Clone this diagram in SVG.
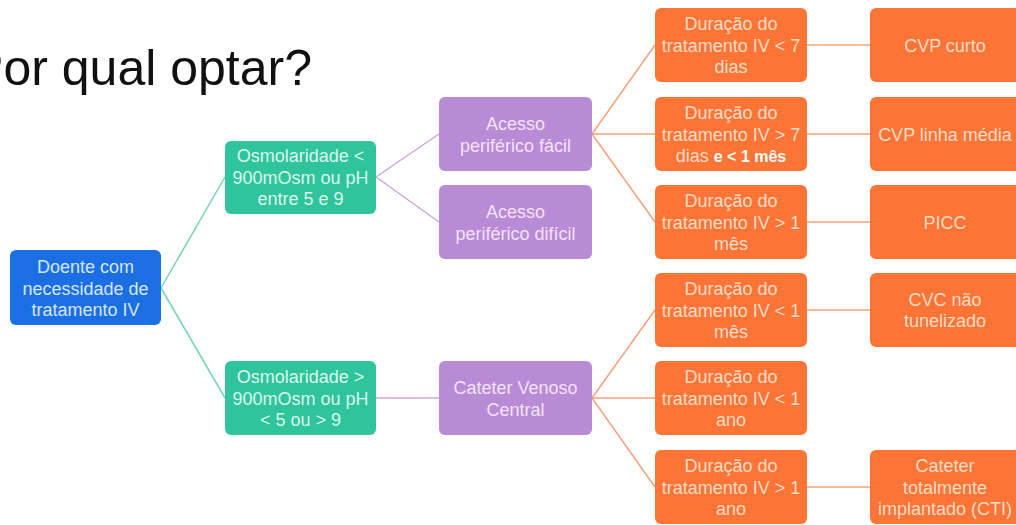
<svg xmlns="http://www.w3.org/2000/svg" width="1016" height="525" viewBox="0 0 1016 525">
<style>
.t{font-family:"Liberation Sans",Arial,sans-serif;font-size:18px;text-anchor:middle}
.blue rect{fill:#1b6fe3}
.blue text{fill:#d6e6ff}
.green rect{fill:#2fc49c}
.green text{fill:#dcf7ee}
.purple rect{fill:#b98ad5}
.purple text{fill:#f3e3fa}
.orange rect{fill:#fc7436}
.orange text{fill:#ffdcc6}
.hi{fill:#ffffff}
.cg{stroke:#74d4b7;stroke-width:1.5;fill:none}
.cp{stroke:#cba6dd;stroke-width:1.5;fill:none}
.co{stroke:#f7a27b;stroke-width:1.5;fill:none}
</style>
<rect width="1016" height="525" fill="#ffffff"/>
<text x="312" y="85" font-family="Liberation Sans,Arial,sans-serif" font-size="50" text-anchor="end" fill="#111111">Por qual optar?</text>

<g id="connectors">
<path class="cg" d="M161 288 L225 177 M161 288 L225 398"/>
<path class="cp" d="M376 177 L439 134 M376 177 L439 222 M376 398 L439 398"/>
<path class="co" d="M592 134 L655 45 M592 134 L655 134 M592 134 L655 222"/>
<path class="co" d="M592 398 L655 310 M592 398 L655 398 M592 398 L655 487"/>
<path class="co" d="M807 45 H870 M807 134 H870 M807 222 H870 M807 310 H870 M807 487 H870"/>
</g>

<g id="n-doente" class="blue">
<rect x="10" y="250" width="151" height="75" rx="6"/>
<text class="t" x="85.5" y="273">Doente com</text>
<text class="t" x="85.5" y="294.5">necessidade de</text>
<text class="t" x="85.5" y="316">tratamento IV</text>
</g>

<g id="n-osm-low" class="green">
<rect x="225" y="141" width="151" height="73" rx="6"/>
<text class="t" x="300.5" y="162">Osmolaridade &lt;</text>
<text class="t" x="300.5" y="183.5">900mOsm ou pH</text>
<text class="t" x="300.5" y="205">entre 5 e 9</text>
</g>

<g id="n-osm-high" class="green">
<rect x="225" y="361" width="151" height="74" rx="6"/>
<text class="t" x="300.5" y="383">Osmolaridade &gt;</text>
<text class="t" x="300.5" y="404.5">900mOsm ou pH</text>
<text class="t" x="300.5" y="426">&lt; 5 ou &gt; 9</text>
</g>

<g id="n-facil" class="purple">
<rect x="439" y="97" width="153" height="74" rx="6"/>
<text class="t" x="515.5" y="130">Acesso</text>
<text class="t" x="515.5" y="151.5">periférico fácil</text>
</g>

<g id="n-dificil" class="purple">
<rect x="439" y="185" width="153" height="74" rx="6"/>
<text class="t" x="515.5" y="218">Acesso</text>
<text class="t" x="515.5" y="239.5">periférico difícil</text>
</g>

<g id="n-cvc" class="purple">
<rect x="439" y="361" width="153" height="74" rx="6"/>
<text class="t" x="515.5" y="394">Cateter Venoso</text>
<text class="t" x="515.5" y="415.5">Central</text>
</g>

<g id="n-d1" class="orange">
<rect x="655" y="8" width="152" height="74" rx="6"/>
<text class="t" x="731" y="30">Duração do</text>
<text class="t" x="731" y="51.5">tratamento IV &lt; 7</text>
<text class="t" x="731" y="73">dias</text>
</g>

<g id="n-d2" class="orange">
<rect x="655" y="97" width="152" height="74" rx="6"/>
<text class="t" x="731" y="119">Duração do</text>
<text class="t" x="731" y="140.5">tratamento IV &gt; 7</text>
<text class="t" x="731" y="162">dias <tspan class="hi" font-weight="bold" font-size="16">e &lt; 1 mês</tspan></text>
</g>

<g id="n-d3" class="orange">
<rect x="655" y="185" width="152" height="74" rx="6"/>
<text class="t hi" x="731" y="207">Duração do</text>
<text class="t hi" x="731" y="228.5">tratamento IV &gt; 1</text>
<text class="t hi" x="731" y="250">mês</text>
</g>

<g id="n-d4" class="orange">
<rect x="655" y="273" width="152" height="74" rx="6"/>
<text class="t" x="731" y="295">Duração do</text>
<text class="t" x="731" y="316.5">tratamento IV &lt; 1</text>
<text class="t" x="731" y="338">mês</text>
</g>

<g id="n-d5" class="orange">
<rect x="655" y="361" width="152" height="74" rx="6"/>
<text class="t" x="731" y="383">Duração do</text>
<text class="t" x="731" y="404.5">tratamento IV &lt; 1</text>
<text class="t" x="731" y="426">ano</text>
</g>

<g id="n-d6" class="orange">
<rect x="655" y="450" width="152" height="74" rx="6"/>
<text class="t" x="731" y="472">Duração do</text>
<text class="t" x="731" y="493.5">tratamento IV &gt; 1</text>
<text class="t" x="731" y="515">ano</text>
</g>

<g id="n-cvp-curto" class="orange">
<rect x="870" y="8" width="152" height="74" rx="6"/>
<text class="t" x="945" y="51.5">CVP curto</text>
</g>

<g id="n-cvp-media" class="orange">
<rect x="870" y="97" width="152" height="74" rx="6"/>
<text class="t" x="945" y="140.5">CVP linha média</text>
</g>

<g id="n-picc" class="orange">
<rect x="870" y="185" width="152" height="74" rx="6"/>
<text class="t" x="945" y="228.5">PICC</text>
</g>

<g id="n-cvc-nt" class="orange">
<rect x="870" y="273" width="152" height="74" rx="6"/>
<text class="t" x="945" y="305.75">CVC não</text>
<text class="t" x="945" y="327.25">tunelizado</text>
</g>

<g id="n-cti" class="orange">
<rect x="870" y="450" width="152" height="74" rx="6"/>
<text class="t" x="945" y="472">Cateter</text>
<text class="t" x="945" y="493.5">totalmente</text>
<text class="t" x="945" y="515">implantado (CTI)</text>
</g>
</svg>
